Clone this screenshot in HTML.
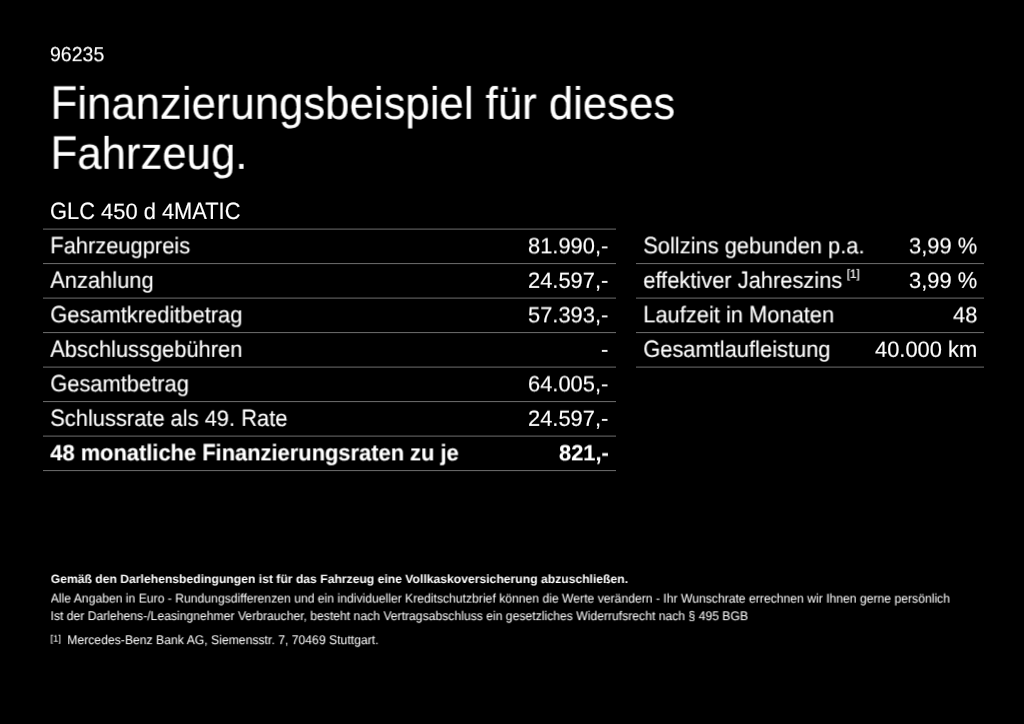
<!DOCTYPE html>
<html><head><meta charset="utf-8">
<style>
html,body{margin:0;padding:0;background:#000;}
body{width:1024px;height:724px;position:relative;overflow:hidden;font-family:"Liberation Sans",sans-serif;color:#fff;}
.t{position:absolute;white-space:nowrap;line-height:1;text-rendering:geometricPrecision;transform-origin:0 84.65%;will-change:transform;}
svg{position:absolute;left:0;top:0;}
.c{display:inline-block;transform:scaleY(1.035);transform-origin:0 84.65%;}
.d{display:inline-block;transform:scaleY(0.975);transform-origin:0 84.65%;}
.fn{font-size:11.6px;position:relative;top:-8.7px;margin-left:-1.5px;-webkit-text-stroke:0.2px #fff;}
</style></head><body>
<svg width="1024" height="724" viewBox="0 0 1024 724">
<line x1="43" x2="616" y1="229.10" y2="229.10" stroke="#707070" stroke-width="1"/>
<line x1="43" x2="616" y1="263.60" y2="263.60" stroke="#707070" stroke-width="1"/>
<line x1="43" x2="616" y1="298.10" y2="298.10" stroke="#707070" stroke-width="1"/>
<line x1="43" x2="616" y1="332.60" y2="332.60" stroke="#707070" stroke-width="1"/>
<line x1="43" x2="616" y1="367.10" y2="367.10" stroke="#707070" stroke-width="1"/>
<line x1="43" x2="616" y1="401.60" y2="401.60" stroke="#707070" stroke-width="1"/>
<line x1="43" x2="616" y1="436.10" y2="436.10" stroke="#707070" stroke-width="1"/>
<line x1="43" x2="616" y1="470.60" y2="470.60" stroke="#707070" stroke-width="1"/>
<line x1="636" x2="984" y1="263.60" y2="263.60" stroke="#707070" stroke-width="1"/>
<line x1="636" x2="984" y1="298.10" y2="298.10" stroke="#707070" stroke-width="1"/>
<line x1="636" x2="984" y1="332.60" y2="332.60" stroke="#707070" stroke-width="1"/>
<line x1="636" x2="984" y1="367.10" y2="367.10" stroke="#707070" stroke-width="1"/>
</svg>
<div class="t" id="num" style="left:50px;top:45px;font-size:19.5px;transform:translate(0px,0.94px) scaleY(1.04) rotate(0.01deg);-webkit-text-stroke:0.12px #fff;">96235</div>
<div class="t" id="h1" style="left:50px;top:82px;font-size:43.72px;transform:translate(0.6px,0.50px) scaleY(1.04) rotate(0.01deg);-webkit-text-stroke:0.12px #fff;"><span class="c">F</span>inanzierungsbeispiel für dieses</div>
<div class="t" id="h2" style="left:50px;top:132px;font-size:43.72px;transform:translate(0.6px,0.50px) scaleY(1.04) rotate(0.01deg);-webkit-text-stroke:0.12px #fff;"><span class="c">F</span>ahrzeug.</div>
<div class="t" id="glc" style="left:50px;top:200px;font-size:21.88px;transform:translate(0px,0.82px) scaleY(1.04) rotate(0.01deg);-webkit-text-stroke:0.12px #fff;"><span class="c">GLC</span> <span class="d">450</span> d <span class="d">4</span><span class="c">MATIC</span></div>
<div class="t" id="l1" style="left:50px;top:235px;font-size:21.88px;transform:translate(0.3px,0.22px) scaleY(1.04) rotate(0.01deg);-webkit-text-stroke:0.12px #fff;"><span class="c">F</span>ahrzeugpreis</div>
<div class="t" id="v1" style="right:415.5px;top:235px;font-size:21.88px;transform:translate(0px,0.22px) scaleY(1.04) rotate(0.01deg);-webkit-text-stroke:0.12px #fff;"><span class="d">81.990,</span>-</div>
<div class="t" id="l2" style="left:50px;top:269px;font-size:21.88px;transform:translate(0.3px,0.72px) scaleY(1.04) rotate(0.01deg);-webkit-text-stroke:0.12px #fff;"><span class="c">A</span>nzahlung</div>
<div class="t" id="v2" style="right:415.5px;top:269px;font-size:21.88px;transform:translate(0px,0.72px) scaleY(1.04) rotate(0.01deg);-webkit-text-stroke:0.12px #fff;"><span class="d">24.597,</span>-</div>
<div class="t" id="l3" style="left:50px;top:304px;font-size:21.88px;transform:translate(0.3px,0.22px) scaleY(1.04) rotate(0.01deg);-webkit-text-stroke:0.12px #fff;"><span class="c">G</span>esamtkreditbetrag</div>
<div class="t" id="v3" style="right:415.5px;top:304px;font-size:21.88px;transform:translate(0px,0.22px) scaleY(1.04) rotate(0.01deg);-webkit-text-stroke:0.12px #fff;"><span class="d">57.393,</span>-</div>
<div class="t" id="l4" style="left:50px;top:338px;font-size:21.88px;transform:translate(0.3px,0.72px) scaleY(1.04) rotate(0.01deg);-webkit-text-stroke:0.12px #fff;"><span class="c">A</span>bschlussgebühren</div>
<div class="t" id="v4" style="right:415.5px;top:338px;font-size:21.88px;transform:translate(0px,0.72px) scaleY(1.04) rotate(0.01deg);-webkit-text-stroke:0.12px #fff;">-</div>
<div class="t" id="l5" style="left:50px;top:373px;font-size:21.88px;transform:translate(0.3px,0.22px) scaleY(1.04) rotate(0.01deg);-webkit-text-stroke:0.12px #fff;"><span class="c">G</span>esamtbetrag</div>
<div class="t" id="v5" style="right:415.5px;top:373px;font-size:21.88px;transform:translate(0px,0.22px) scaleY(1.04) rotate(0.01deg);-webkit-text-stroke:0.12px #fff;"><span class="d">64.005,</span>-</div>
<div class="t" id="l6" style="left:50px;top:407px;font-size:21.88px;transform:translate(0.3px,0.72px) scaleY(1.04) rotate(0.01deg);-webkit-text-stroke:0.12px #fff;"><span class="c">S</span>chlussrate als <span class="d">49.</span> <span class="c">R</span>ate</div>
<div class="t" id="v6" style="right:415.5px;top:407px;font-size:21.88px;transform:translate(0px,0.72px) scaleY(1.04) rotate(0.01deg);-webkit-text-stroke:0.12px #fff;"><span class="d">24.597,</span>-</div>
<div class="t" id="l7" style="left:50px;top:442px;font-size:21.88px;transform:translate(0.3px,0.22px) scaleY(1.04) rotate(0.01deg);font-weight:bold;-webkit-text-stroke:0.12px #fff;"><span class="d">48</span> monatliche <span class="c">F</span>inanzierungsraten zu je</div>
<div class="t" id="v7" style="right:415.5px;top:442px;font-size:21.88px;transform:translate(0px,0.22px) scaleY(1.04) rotate(0.01deg);font-weight:bold;-webkit-text-stroke:0.12px #fff;"><span class="d">821,</span>-</div>
<div class="t" id="m1" style="left:643px;top:235px;font-size:21.88px;transform:translate(0.3px,0.22px) scaleY(1.04) rotate(0.01deg);-webkit-text-stroke:0.12px #fff;"><span class="c">S</span>ollzins gebunden p.a.</div>
<div class="t" id="w1" style="right:47px;top:235px;font-size:21.88px;transform:translate(0px,0.22px) scaleY(1.04) rotate(0.01deg);-webkit-text-stroke:0.12px #fff;"><span class="d">3,99</span> %</div>
<div class="t" id="m2" style="left:643px;top:269px;font-size:21.88px;transform:translate(0.3px,0.72px) scaleY(1.04) rotate(0.01deg);-webkit-text-stroke:0.12px #fff;">effektiver <span class="c">J</span>ahreszins <span class="fn">[1]</span></div>
<div class="t" id="w2" style="right:47px;top:269px;font-size:21.88px;transform:translate(0px,0.72px) scaleY(1.04) rotate(0.01deg);-webkit-text-stroke:0.12px #fff;"><span class="d">3,99</span> %</div>
<div class="t" id="m3" style="left:643px;top:304px;font-size:21.88px;transform:translate(0.3px,0.22px) scaleY(1.04) rotate(0.01deg);-webkit-text-stroke:0.12px #fff;"><span class="c">L</span>aufzeit in <span class="c">M</span>onaten</div>
<div class="t" id="w3" style="right:47px;top:304px;font-size:21.88px;transform:translate(0px,0.22px) scaleY(1.04) rotate(0.01deg);-webkit-text-stroke:0.12px #fff;"><span class="d">48</span></div>
<div class="t" id="m4" style="left:643px;top:338px;font-size:21.88px;transform:translate(0.3px,0.72px) scaleY(1.04) rotate(0.01deg);-webkit-text-stroke:0.12px #fff;"><span class="c">G</span>esamtlaufleistung</div>
<div class="t" id="w4" style="right:47px;top:338px;font-size:21.88px;transform:translate(0px,0.72px) scaleY(1.04) rotate(0.01deg);-webkit-text-stroke:0.12px #fff;"><span class="d">40.000</span> km</div>
<div class="t" id="f1" style="left:50px;top:573px;font-size:12.16px;transform:translate(0.7px,-0.10px) scaleY(0.98) rotate(0.01deg);font-weight:bold;">Gemäß den Darlehensbedingungen ist für das Fahrzeug eine Vollkaskoversicherung abzuschließen.</div>
<div class="t" id="f2" style="left:50px;top:592px;font-size:12.18px;transform:translate(0.7px,0.98px) scaleY(1.04) rotate(0.01deg);">Alle Angaben in Euro - Rundungsdifferenzen und ein individueller Kreditschutzbrief können die Werte verändern - Ihr Wunschrate errechnen wir Ihnen gerne persönlich</div>
<div class="t" id="f3" style="left:50px;top:610px;font-size:12.18px;transform:translate(0.5px,0.51px) scaleY(1.04) rotate(0.01deg);">Ist der Darlehens-/Leasingnehmer Verbraucher, besteht nach Vertragsabschluss ein gesetzliches Widerrufsrecht nach § 495 BGB</div>
<div class="t" id="f4a" style="left:50px;top:634px;font-size:9.5px;transform:translate(0.4px,0.74px) scaleY(1.0) rotate(0.01deg);">[1]</div>
<div class="t" id="f4" style="left:67px;top:634px;font-size:12.21px;transform:translate(0.3px,0.57px) scaleY(1.04) rotate(0.01deg);">Mercedes-Benz Bank AG, Siemensstr. 7, 70469 Stuttgart.</div>
</body></html>
